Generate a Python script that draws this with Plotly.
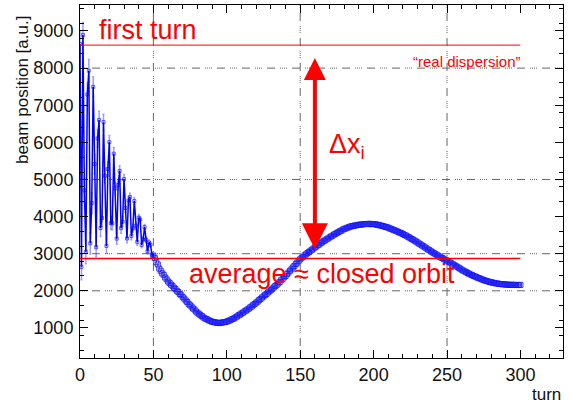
import plotly.graph_objects as go

# ---------------- data ----------------
turns = list(range(301))

pos_early = [8650, 2645, 8890, 4705, 3052, 7290, 7930, 3280, 4364, 7495,
             5415, 3174, 6105, 6602, 3691, 3960, 6544, 5099, 3210, 5282,
             6005, 3824, 3818, 5695, 4758, 3406, 4854, 5231, 3689, 3862,
             5010, 4233, 3410, 4432, 4525, 3475, 3684, 4420, 3758, 3318,
             3970, 3920, 3237, 3387, 3714, 3378, 3064, 3302, 3242, 2976]
err_early = [350, 350, 340, 330, 320, 310, 300, 290, 280, 270,
             260, 250, 240, 235, 230, 220, 210, 200, 195, 190,
             180, 175, 170, 165, 160, 150, 145, 140, 135, 130,
             125, 120, 115, 110, 105, 100, 100, 95, 90, 90,
             85, 85, 80, 80, 75, 75, 70, 70, 65, 65]

pos_late = [2950,
            2880, 2770, 2710, 2600, 2540, 2470, 2430, 2360, 2310, 2250,
            2215, 2165, 2135, 2085, 2050, 2000, 1965, 1915, 1880, 1830,
            1790, 1740, 1700, 1650, 1610, 1575, 1525, 1495, 1445, 1410,
            1380, 1345, 1320, 1285, 1260, 1240, 1225, 1200, 1185, 1165,
            1160, 1150, 1140, 1140, 1130, 1140, 1145, 1155, 1160, 1170,
            1190, 1200, 1225, 1240, 1260, 1285, 1310, 1340, 1360, 1390,
            1410, 1445, 1465, 1495, 1520, 1555, 1580, 1620, 1645, 1680,
            1710, 1750, 1780, 1820, 1850, 1885, 1915, 1955, 1985, 2020,
            2055, 2090, 2130, 2160, 2200, 2235, 2285, 2315, 2365, 2400,
            2450, 2490, 2540, 2580, 2630, 2670, 2720, 2760, 2810, 2850,
            2890, 2915, 2955, 2985, 3020, 3045, 3080, 3105, 3140, 3170,
            3195, 3230, 3250, 3285, 3310, 3340, 3360, 3390, 3410, 3440,
            3465, 3485, 3515, 3535, 3560, 3580, 3605, 3620, 3650, 3670,
            3680, 3700, 3710, 3730, 3740, 3745, 3760, 3760, 3775, 3780,
            3780, 3790, 3790, 3800, 3800, 3805, 3795, 3805, 3795, 3800,
            3795, 3780, 3780, 3765, 3760, 3745, 3740, 3720, 3715, 3700,
            3680, 3670, 3650, 3635, 3620, 3600, 3585, 3565, 3550, 3530,
            3505, 3490, 3465, 3445, 3420, 3395, 3375, 3350, 3325, 3300,
            3270, 3250, 3220, 3200, 3170, 3145, 3115, 3095, 3065, 3040,
            3015, 2995, 2970, 2945, 2920, 2895, 2880, 2850, 2835, 2810,
            2785, 2765, 2740, 2715, 2690, 2665, 2645, 2620, 2595, 2570,
            2545, 2525, 2505, 2480, 2460, 2440, 2425, 2400, 2390, 2370,
            2350, 2340, 2320, 2305, 2290, 2275, 2265, 2250, 2240, 2230,
            2220, 2215, 2200, 2200, 2190, 2185, 2180, 2175, 2175, 2170,
            2165, 2165, 2160, 2165, 2160, 2160, 2155, 2160, 2155, 2160]
err_late = 40

first_turn_level = 8617
average_level = 2870
line_end_turn = 300
arrow_turn = 160
arrow_top = 8270
arrow_bottom = 3080
vgrid_turns = [50, 150, 250]
hgrid_levels = [8000, 5000, 3000, 2000]

# ---------------- figure ----------------
FONT = "Liberation Sans, Arial, sans-serif"
BLUE = "#0000ff"
RED = "#ff0000"

fig = go.Figure()

fig.add_trace(go.Scatter(
    x=turns[:51], y=pos_early + pos_late[:1],
    mode="lines+markers",
    line=dict(color=BLUE, width=1.5),
    marker=dict(symbol="square-open", size=3, color="rgba(0,0,255,0.6)", line=dict(width=1)),
    error_y=dict(type="data", array=err_early + [err_late], color="rgba(60,60,255,0.5)",
                 thickness=1.5, width=1),
    showlegend=False, hoverinfo="skip",
))
fig.add_trace(go.Scatter(
    x=turns[50:], y=pos_late,
    mode="markers",
    marker=dict(symbol="square-open", size=5, color="rgba(20,20,255,0.85)", line=dict(width=1)),
    error_y=dict(type="constant", value=err_late, color="rgba(0,0,60,0.7)",
                 thickness=1, width=0),
    showlegend=False, hoverinfo="skip",
))

grid_dash = "1px,1px,1px,1px,1px,1px,1px,5px,8px,5px"
shapes = []
for t in vgrid_turns:
    shapes.append(dict(type="line", xref="x", yref="paper", x0=t, x1=t, y0=0, y1=1,
                       line=dict(color="#666666", width=1, dash=grid_dash), layer="below"))
for v in hgrid_levels:
    shapes.append(dict(type="line", xref="paper", yref="y", x0=0, x1=1, y0=v, y1=v,
                       line=dict(color="#666666", width=1, dash=grid_dash), layer="below"))
shapes.append(dict(type="line", xref="x", yref="y", x0=0, x1=line_end_turn,
                   y0=first_turn_level, y1=first_turn_level,
                   line=dict(color="rgba(255,0,0,0.8)", width=1.2)))
shapes.append(dict(type="line", xref="x", yref="y", x0=0, x1=line_end_turn,
                   y0=average_level, y1=average_level,
                   line=dict(color=RED, width=1.5)))

PW, PH = 483, 353
annotations = [
    dict(x=11.5, y=9030, xref="x", yref="y", text="first turn", showarrow=False,
         xanchor="left", yanchor="middle", font=dict(family=FONT, size=27, color=RED)),
    dict(x=73, y=2450, xref="x", yref="y", text="average ≈ closed orbit", showarrow=False,
         xanchor="left", yanchor="middle", font=dict(family=FONT, size=27, color=RED)),
    dict(x=168, y=5900, xref="x", yref="y", text="Δx<sub>i</sub>", showarrow=False,
         xanchor="left", yanchor="middle", font=dict(family=FONT, size=27, color=RED)),
    dict(x=301.5, y=8190, xref="x", yref="y", text="“real dispersion”", showarrow=False,
         xanchor="right", yanchor="middle", font=dict(family=FONT, size=15, color=RED)),
    # double-headed arrow
    dict(x=arrow_turn, y=arrow_top, ax=arrow_turn, ay=arrow_bottom,
         xref="x", yref="y", axref="x", ayref="y", text="", showarrow=True,
         arrowhead=2, startarrowhead=2, arrowside="end+start",
         arrowsize=1.1, startarrowsize=1.3, arrowwidth=4, arrowcolor=RED),
    # axis titles
    dict(x=(22 - 80) / PW, y=1 - 9 / PH, xref="paper", yref="paper",
         text="beam position [a.u.]", textangle=-90, showarrow=False,
         xanchor="center", yanchor="top", font=dict(family=FONT, size=17, color="#111111")),
    dict(x=1.0, y=-36 / PH, xref="paper", yref="paper", text="turn", showarrow=False,
         xanchor="right", yanchor="middle", font=dict(family=FONT, size=17, color="#111111")),
]

axis_common = dict(
    showline=True, linecolor="black", linewidth=1, mirror="ticks",
    ticks="inside", ticklen=8, tickcolor="black", tickwidth=1,
    showgrid=False, zeroline=False, automargin=False,
    tickfont=dict(family=FONT, size=18, color="#111111"),
)

fig.update_xaxes(range=[0, 329], dtick=50, tick0=0,
                 minor=dict(dtick=10, ticks="inside", ticklen=4, tickcolor="black", showgrid=False),
                 **axis_common)
fig.update_yaxes(range=[190, 9700], dtick=1000, tick0=0,
                 minor=dict(dtick=400, tick0=0, ticks="inside", ticklen=4, tickcolor="black", showgrid=False),
                 ticklabelstandoff=2,
                 **axis_common)

fig.update_layout(
    width=569, height=406,
    margin=dict(l=80, r=6, t=5, b=48, autoexpand=False),
    paper_bgcolor="white", plot_bgcolor="white",
    shapes=shapes, annotations=annotations,
    font=dict(family=FONT),
)

fig.write_html("out.html", config={"displayModeBar": False},
               post_script="document.body.style.margin='0';document.body.style.padding='0';")
